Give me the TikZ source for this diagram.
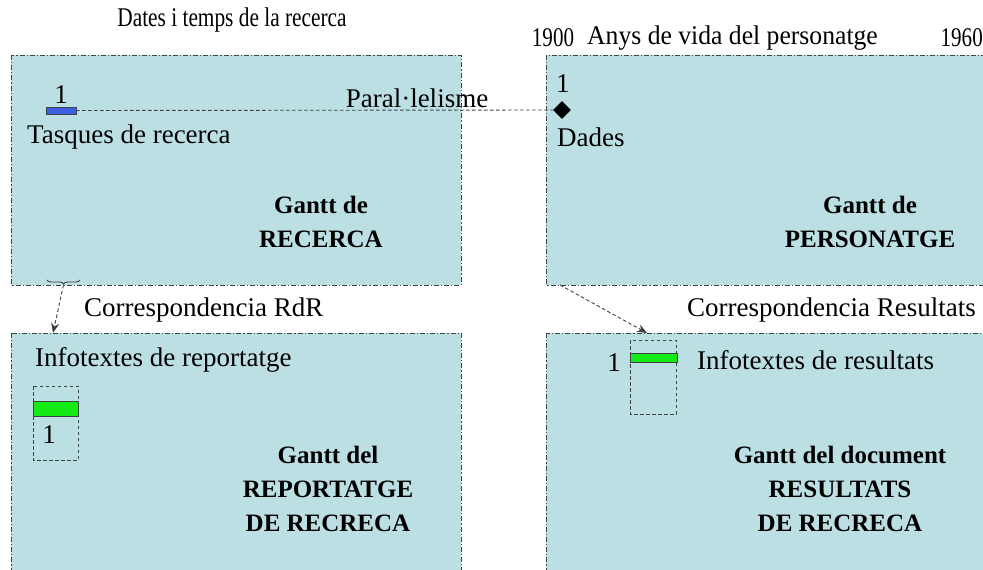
\documentclass[tikz,border=0pt]{standalone}
\usepackage{fontspec}
\setmainfont{Liberation Serif}
\usetikzlibrary{shapes.geometric,arrows.meta,decorations.pathreplacing}
\definecolor{panel}{RGB}{187,223,227}
\definecolor{bordc}{RGB}{60,68,72}
\definecolor{barblue}{RGB}{60,95,225}
\definecolor{bargreen}{RGB}{20,235,20}
\begin{document}
\begin{tikzpicture}[x=1pt,y=-1pt,
  panelbox/.style={fill=panel,draw=bordc,line width=0.9pt,dash pattern=on 5pt off 2pt on 1.2pt off 2pt},
  body/.style={font=\fontsize{27}{29}\selectfont,inner sep=0pt},
  head/.style={font=\fontsize{27}{29}\selectfont,inner sep=0pt},
  title/.style={font=\fontsize{25}{34}\selectfont\bfseries,inner sep=0pt,align=center},
  dashbox/.style={draw=bordc,line width=0.9pt,dash pattern=on 3.5pt off 2.5pt},
  conn/.style={draw=bordc,line width=0.9pt,dash pattern=on 3.5pt off 2.5pt},
  tip/.style={-{Stealth[length=10pt,width=8pt]}}]
\useasboundingbox (0,0) rectangle (983,570);
\clip (0,0) rectangle (983,570);
% panels
\path[panelbox] (11,55) rectangle (461,285);
\path[panelbox] (546,55) rectangle (1000,285);
\path[panelbox] (11,333) rectangle (461,600);
\path[panelbox] (546,333) rectangle (1000,600);
% headings
\node[head] (h1) at (232,20) {\scalebox{0.79}[1]{Dates i temps de la recerca}};
\node[head] (y1) at (553,38) {\scalebox{0.78}[1]{1900}};
\node[head,anchor=west] (h2) at (587,38) {\scalebox{0.95}[1]{Anys de vida del personatge}};
\node[head,anchor=east] (y2) at (983,38) {\scalebox{0.78}[1]{1960}};
% top-left panel
\path[fill=barblue,draw=bordc,line width=0.7pt] (46,107) rectangle (76,114);
\coordinate (bar1) at (76,110.5);
\node[body] (n1) at (61,95) {1};
\node[body,anchor=west] (tasq) at (27,137) {Tasques de recerca};
\node[body] (par) at (417,98) {Paral·lelisme};
\node[title] (g1) at (321,222) {Gantt de\\RECERCA};
% top-right panel
\node[diamond,fill=black,inner sep=0pt,minimum size=18pt] (dia) at (562,110) {};
\node[body,anchor=west] (n2) at (556,84) {1};
\node[body,anchor=west] (dades) at (557,137) {Dades};
\node[title] (g2) at (870,222) {Gantt de\\PERSONATGE};
\draw[conn] (bar1) -- (dia.west);
% brace and arrows
\draw[bordc,line width=0.9pt,decorate,decoration={brace,amplitude=4pt}] (80,280) -- (47,280);
\coordinate (braceTip) at (63.5,285);
\coordinate (blTop) at (53,333);
\draw[conn,tip] (braceTip) -- (blTop);
\node[body,anchor=west] (crdr) at (84,310) {Correspondencia RdR};
\coordinate (trCorner) at (560,285);
\coordinate (brTop) at (647,333);
\draw[conn,tip] (trCorner) -- (brTop);
\node[body,anchor=west] (crres) at (687,310) {Correspondencia Resultats};
% bottom-left panel
\node[body,anchor=west] (inf1) at (35,360) {Infotextes de reportatge};
\path[dashbox] (33,386) rectangle (78,460);
\path[fill=bargreen,draw=bordc,line width=0.7pt] (33,401) rectangle (78,416);
\node[body] (n3) at (49,435) {1};
\node[title] (g3) at (328,489) {Gantt del\\REPORTATGE\\DE RECRECA};
% bottom-right panel
\node[body] (n4) at (614,363) {1};
\path[dashbox] (630,340) rectangle (676,414);
\path[fill=bargreen,draw=bordc,line width=0.7pt] (630,353) rectangle (677,362);
\node[body,anchor=west] (inf2) at (697,360) {Infotextes de resultats};
\node[title] (g4) at (840,489) {Gantt del document\\RESULTATS\\DE RECRECA};
\end{tikzpicture}
\end{document}
